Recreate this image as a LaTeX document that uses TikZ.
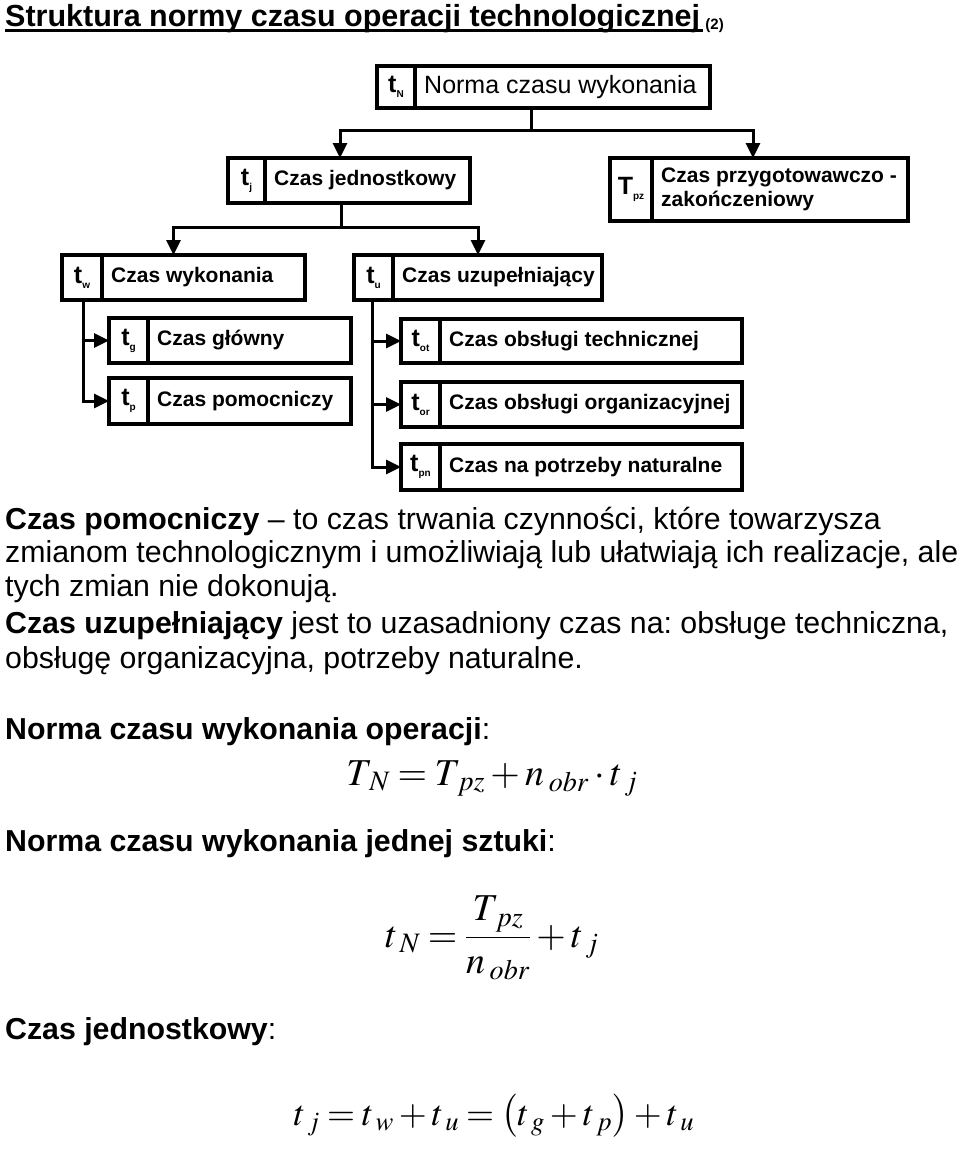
\documentclass[tikz,border=0pt]{standalone}
\usepackage{mathptmx}
\usepackage[no-math]{fontspec}
\setmainfont{Liberation Sans}
\usetikzlibrary{arrows.meta,positioning}
\frenchspacing

\tikzset{
  box/.style={draw, line width=3.5pt, outer sep=0pt, inner sep=0pt, anchor=north west},
  symcell/.style={draw, line width=3.5pt, outer sep=0pt, inner sep=0pt, anchor=west},
  boxtext/.style={anchor=west, inner sep=0pt, align=left,
    font=\fontsize{21}{24}\selectfont\bfseries},
  conn/.style={line width=3pt},
  arr/.style={line width=3pt, -{Triangle[length=15pt,width=14pt]}},
  para/.style={anchor=base west, inner sep=0pt, font=\fontsize{30.3}{33}\selectfont},
  formula/.style={anchor=base, inner sep=0pt, font=\fontsize{38}{44}\selectfont},
}

% symbol in the left cell of a box
\newcommand{\tsym}[2]{{\fontsize{25}{25}\selectfont\bfseries #1}{\fontsize{10}{10}\selectfont\bfseries\raisebox{-5pt}{#2}}}
% name, x, y, width, height, cell width, symbol, text
\newcommand{\tbox}[8]{%
  \node[box, minimum width=#4, minimum height=#5] (#1) at (#2,#3) {};
  \node[symcell, minimum width=#6, minimum height=#5] (#1-s) at (#1.west) {#7};
  \node[boxtext] (#1-t) at ([xshift=9pt]#1-s.east) {#8};
}
% spaced subscript and tighter operators, as in the equation editor
\newcommand{\sub}[1]{_{\mkern3mu #1}}
\newcommand{\fmskip}{\thickmuskip=3.5mu\relax\medmuskip=2.5mu\relax}

\begin{document}
\begin{tikzpicture}[x=1pt, y=-1pt]
    \useasboundingbox (0,0) rectangle (960,1162);
    % Title
    \node[anchor=base west, inner sep=0pt, font=\fontsize{30.5}{33}\selectfont\bfseries]
        (title) at (5,26) {Struktura normy czasu operacji technologicznej};
    \draw[line width=3pt] ([yshift=-4pt]title.base west) -- ([yshift=-4pt,xshift=3pt]title.base east);
    \node[anchor=base west, inner sep=0pt, font=\fontsize{15}{15}\selectfont\bfseries]
        (titlenr) at ([xshift=5pt,yshift=-3pt]title.base east) {(2)};
    % Boxes
    \tbox{tn}{377}{66}{333}{42}{38}{\tsym{t}{N}}{{\mdseries\fontsize{25}{28}\selectfont Norma czasu wykonania}}
    \tbox{tj}{228}{158}{242}{45}{37}{\tsym{t}{j}}{Czas jednostkowy}
    \tbox{Tpz}{610}{158}{298}{63}{42}{\tsym{T}{pz}}{Czas przygotowawczo -\\zakończeniowy}
    \tbox{tw}{62}{255}{243}{45}{40}{\tsym{t}{w}}{Czas wykonania}
    \tbox{tu}{354}{255}{248}{45}{39}{\tsym{t}{u}}{Czas uzupełniający}
    \tbox{tg}{109}{318}{242}{45}{39}{\tsym{t}{g}}{Czas główny}
    \tbox{tp}{109}{378}{242}{46}{39}{\tsym{t}{p}}{Czas pomocniczy}
    \tbox{tot}{401}{319}{341}{44}{39}{\tsym{t}{ot}}{Czas obsługi technicznej}
    \tbox{tor}{401}{382}{341}{45}{39}{\tsym{t}{or}}{Czas obsługi organizacyjnej}
    \tbox{tpn}{401}{444}{341}{46}{39}{\tsym{t}{pn}}{Czas na potrzeby naturalne}
    % Connectors
    \coordinate (jn) at (531,130);
    \draw[conn] (tn.south -| jn) -- (jn);
    \draw[arr] (jn) -| ([xshift=-9pt]tj.north);
    \draw[arr] (jn) -| ([xshift=-6pt]Tpz.north);
    \coordinate (jj) at (341,227);
    \draw[conn] (tj.south -| jj) -- (jj);
    \draw[arr] (jj) -| ([xshift=-10pt]tw.north);
    \draw[arr] (jj) -| (tu.north);
    \coordinate (jw) at ([xshift=21pt]tw.south west);
    \draw[arr] (jw) |- (tg.west);
    \draw[arr] (jw) |- (tp.west);
    \coordinate (ju) at ([xshift=18pt]tu.south west);
    \draw[arr] (ju) |- (tot.west);
    \draw[arr] (ju) |- (tor.west);
    \draw[arr] (ju) |- (tpn.west);
    % Text
    \node[para] (l1) at (5,529) {\textbf{Czas pomocniczy} – to czas trwania czynności, które towarzysza};
    \node[para] (l2) at (5,562) {zmianom technologicznym i umożliwiają lub ułatwiają ich realizacje, ale};
    \node[para] (l3) at (5,596) {tych zmian nie dokonują.};
    \node[para] (l4) at (5,633) {\textbf{Czas uzupełniający} jest to uzasadniony czas na: obsługe techniczna,};
    \node[para] (l5) at (5,668) {obsługę organizacyjna, potrzeby naturalne.};
    \node[para] (h1) at (5,739) {\textbf{Norma czasu wykonania operacji}:};
    \node[para] (h2) at (5,851) {\textbf{Norma czasu wykonania jednej sztuki}:};
    \node[para] (h3) at (5,1039) {\textbf{Czas jednostkowy}:};
    % Formulas
    \node[formula] (f1) at (492,785) {$\fmskip T\sub{N} = T\sub{pz} + n\sub{obr}\cdot t\sub{j}$};
    \node[formula] (f2) at (492,947) {$\fmskip\displaystyle t\sub{N} = \frac{T\sub{pz}}{n\sub{obr}} + t\sub{j}$};
    \node[formula, font=\fontsize{36}{46}\selectfont] (f3) at (494,1125)
        {$\fmskip t\sub{j} = t\sub{w} + t\sub{u} = \bigl(t\sub{g} + t\sub{p}\bigr) + t\sub{u}$};
\end{tikzpicture}
\end{document}
